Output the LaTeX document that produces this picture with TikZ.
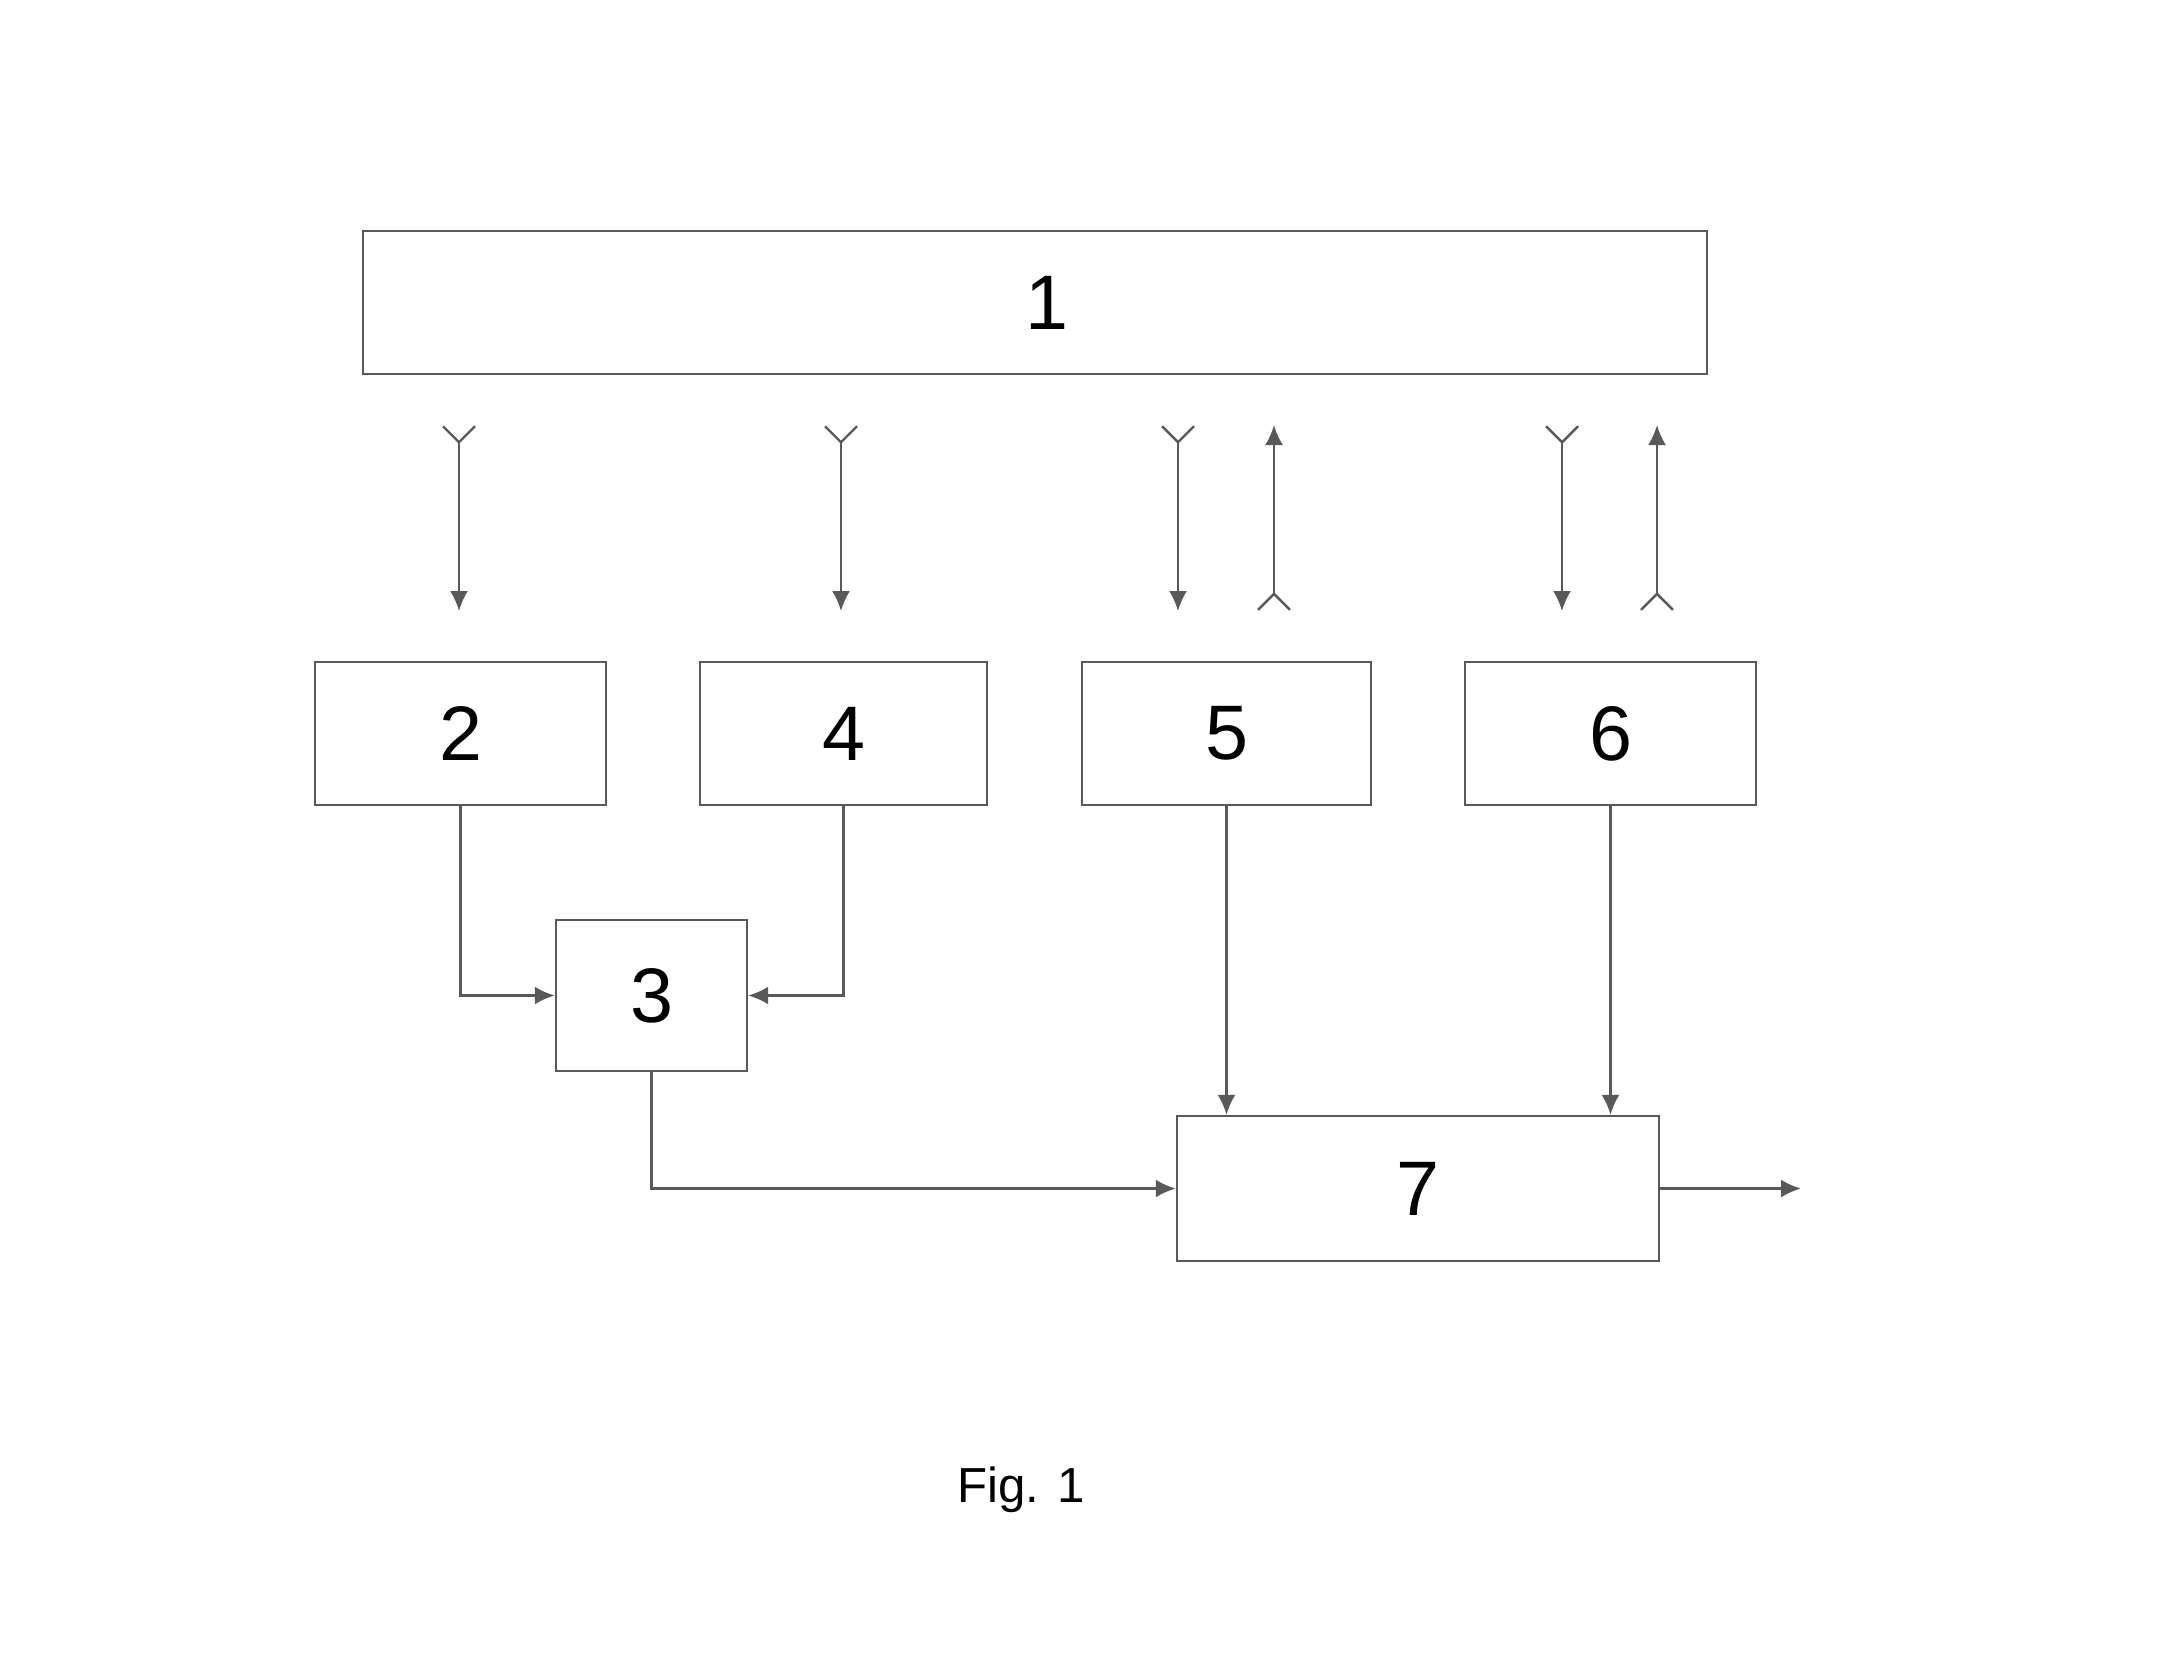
\documentclass[tikz,border=0pt]{standalone}
\usepackage{fontspec}
\setmainfont{Liberation Sans}
\usetikzlibrary{arrows.meta,positioning}

\begin{document}
\begin{tikzpicture}[
    block/.style={rectangle, draw=black!65, line width=0.7pt, font=\fontsize{22}{26}\selectfont},
    flow/.style={draw=black!65, line width=0.7pt, -{Latex[length=2mm,width=1.8mm]}},
    feed/.style={flow, {Straight Barb[reversed,length=1.6mm,width=3.2mm]}-{Latex[length=2mm,width=1.8mm]}}
]
    \useasboundingbox (0,0) rectangle (21.73,-16.76);

    \node[block, minimum width=13.44cm, minimum height=1.43cm] (one) at (10.35,-3.025) {\hspace*{0.24cm}\raisebox{-0.06cm}{1}};
    \node[block, minimum width=2.91cm, minimum height=1.43cm] (two) at (4.605,-7.335) {2};
    \node[block, minimum width=2.87cm, minimum height=1.43cm] (four) at (8.435,-7.335) {4};
    \node[block, minimum width=2.89cm, minimum height=1.43cm] (five) at (12.265,-7.335) {5};
    \node[block, minimum width=2.91cm, minimum height=1.43cm] (six) at (16.105,-7.335) {6};
    \node[block, minimum width=1.91cm, minimum height=1.51cm] (three) at (6.515,-9.955) {3};
    \node[block, minimum width=4.82cm, minimum height=1.45cm] (seven) at (14.18,-11.885) {7};
    \node[font=\fontsize{14}{17}\selectfont] (caption) at (10.21,-14.9) {Fig. 1};

    % links between block 1 and the second row
    \coordinate (twotop) at (4.59,-4.25);    \coordinate (twoin) at (4.59,-6.11);
    \coordinate (fourtop) at (8.41,-4.25);   \coordinate (fourin) at (8.41,-6.11);
    \coordinate (fivetop) at (11.78,-4.25);  \coordinate (fivein) at (11.78,-6.11);
    \coordinate (fiveret) at (12.74,-6.11);  \coordinate (fiveup) at (12.74,-4.25);
    \coordinate (sixtop) at (15.62,-4.25);   \coordinate (sixin) at (15.62,-6.11);
    \coordinate (sixret) at (16.57,-6.11);   \coordinate (sixup) at (16.57,-4.25);
    \coordinate (output) at (18.01,-11.885);

    \draw[feed] (twotop) -- (twoin);
    \draw[feed] (fourtop) -- (fourin);
    \draw[feed] (fivetop) -- (fivein);
    \draw[feed] (fiveret) -- (fiveup);
    \draw[feed] (sixtop) -- (sixin);
    \draw[feed] (sixret) -- (sixup);

    \draw[flow] (two.south) |- (three.west);
    \draw[flow] (four.south) |- (three.east);
    \draw[flow] (three.south) |- (seven.west);
    \draw[flow] (five.south) -- (five.south |- seven.north);
    \draw[flow] (six.south) -- (six.south |- seven.north);
    \draw[flow] (seven.east) -- (output);
\end{tikzpicture}
\end{document}
